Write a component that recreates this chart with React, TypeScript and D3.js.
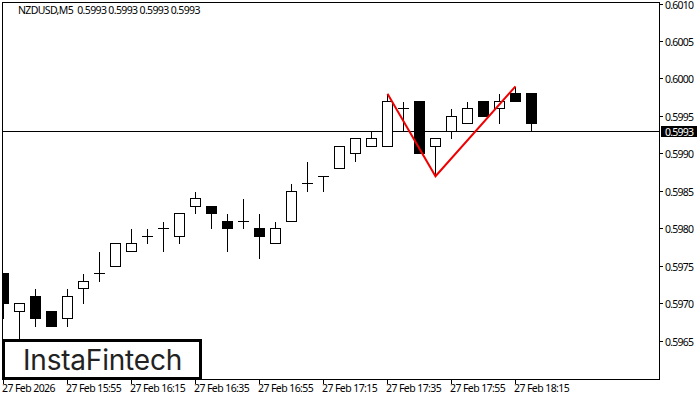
import React from "react";
import * as d3 from "d3";

const opens = [5974,5969,5971,5969,5968,5972,5974,5975,5977,5979,5980,5979,5983,5983,5981,5981,5980,5978,5981,5986,5987,5988,5990,5991,5991,5996,5997,5991,5993,5994,5997,5996,5998,5998];
const closes = [5970,5970,5968,5967,5971,5973,5974,5978,5978,5979,5980,5982,5984,5982,5980,5981,5979,5980,5985,5986,5987,5991,5992,5992,5997,5996,5990,5992,5995,5996,5995,5997,5997,5994];
const highs = [5974,5970,5972,5969,5972,5974,5977,5978,5980,5980,5981,5982,5985,5983,5982,5984,5982,5981,5986,5989,5987,5991,5992,5993,5998,5997,5997,5992,5996,5997,5997,5998,5999,5998];
const lows = [5968,5965,5967,5967,5967,5970,5973,5975,5977,5978,5977,5978,5982,5980,5977,5980,5976,5978,5981,5985,5985,5988,5989,5991,5991,5993,5990,5987,5992,5994,5995,5994,5997,5993];
const priceTicks = [6010,6005,6000,5995,5990,5985,5980,5975,5970,5965];
const timeLabels = ["27 Feb 2026","27 Feb 15:55","27 Feb 16:15","27 Feb 16:35","27 Feb 16:55","27 Feb 17:15","27 Feb 17:35","27 Feb 17:55","27 Feb 18:15"];
const timeIndex = [0,4,8,12,16,20,24,28,32];
const patternIndex = [24,27,32];
const patternPrice = [5998,5987,5999];
const lastPrice = 5993;
const title = "NZDUSD,M5  0.5993 0.5993 0.5993 0.5993";

const W = 700, H = 400;
const font = "'Noto Sans', 'DejaVu Sans', sans-serif";
const x = d3.scaleLinear().domain([0, 1]).range([3.5, 19.5]);
const yRaw = d3.scaleLinear().domain([5965, 6010]).range([341, 4]);
const y = (v: number) => Math.floor(yRaw(v)) + 0.5;
const fmt = (v: number) => (v / 10000).toFixed(4);

export default function App() {
  const redPath = d3.line<number>().x((i) => x(i)).y((_, k) => yRaw(patternPrice[k]))(patternIndex) as string;
  return (
    <svg width={W} height={H} viewBox={`0 0 ${W} ${H}`} style={{ position: "fixed", left: 0, top: 0, background: "#fff" }}>
      <defs>
        <clipPath id="plot"><rect x={3} y={3} width={656} height={376} /></clipPath>
      </defs>
      <g clipPath="url(#plot)" shapeRendering="crispEdges">
        <line x1={3} x2={660} y1={y(lastPrice)} y2={y(lastPrice)} stroke="#000" />
        {opens.map((o, i) => {
          const c = closes[i];
          const cx = x(i);
          const top = y(Math.max(o, c));
          const bot = y(Math.min(o, c));
          const bear = c < o;
          return (
            <g key={i}>
              <line x1={cx} x2={cx} y1={y(highs[i])} y2={y(lows[i]) + 0.5} stroke="#000" />
              {o === c ? (
                <line x1={cx - 5.5} x2={cx + 5.5} y1={top} y2={top} stroke="#000" />
              ) : (
                <rect x={cx - 5} y={top} width={10} height={bot - top} fill={bear ? "#000" : "#fff"} stroke="#000" />
              )}
            </g>
          );
        })}
      </g>
      <path d={redPath} fill="none" stroke="#f00000" strokeWidth={2} />
      <g shapeRendering="crispEdges" stroke="#000">
        <line x1={659.5} x2={659.5} y1={2} y2={379} />
        <line x1={2.5} x2={2.5} y1={2} y2={379} />
        <line x1={2} x2={660} y1={379.5} y2={379.5} />
        <line x1={2} x2={660} y1={2.5} y2={2.5} />
        {priceTicks.map((p) => (
          <line key={p} x1={660} x2={663} y1={y(p)} y2={y(p)} />
        ))}
        {timeIndex.map((i) => (
          <line key={i} x1={x(i)} x2={x(i)} y1={380} y2={384} />
        ))}
      </g>
      <g fontFamily={font} fontSize={10.5} fill="#000">
        {priceTicks.map((p) => (
          <text key={p} x={665} y={yRaw(p) + 4.5} letterSpacing={-0.75}>{fmt(p)}</text>
        ))}
        {timeIndex.map((i, k) => (
          <text key={i} x={x(i) - 1.5} y={392} letterSpacing={-0.58}>{timeLabels[k]}</text>
        ))}
        <text x={18} y={14} letterSpacing={-0.63} xmlSpace="preserve">{title}</text>
      </g>
      <rect x={661} y={126} width={36} height={11} fill="#000" shapeRendering="crispEdges" />
      <text x={665} y={yRaw(lastPrice) + 4.5} fontFamily={font} fontSize={10.5} letterSpacing={-0.75} fill="#fff">{fmt(lastPrice)}</text>
      <rect x={3.5} y={340.5} width={197} height={38} fill="#fff" stroke="#000" strokeWidth={3} />
      <text x={23} y={370} fontFamily="Inter, Lato, sans-serif" fontSize={28} fontWeight={400} letterSpacing={-0.2} fill="#222">InstaFintech</text>
    </svg>
  );
}
